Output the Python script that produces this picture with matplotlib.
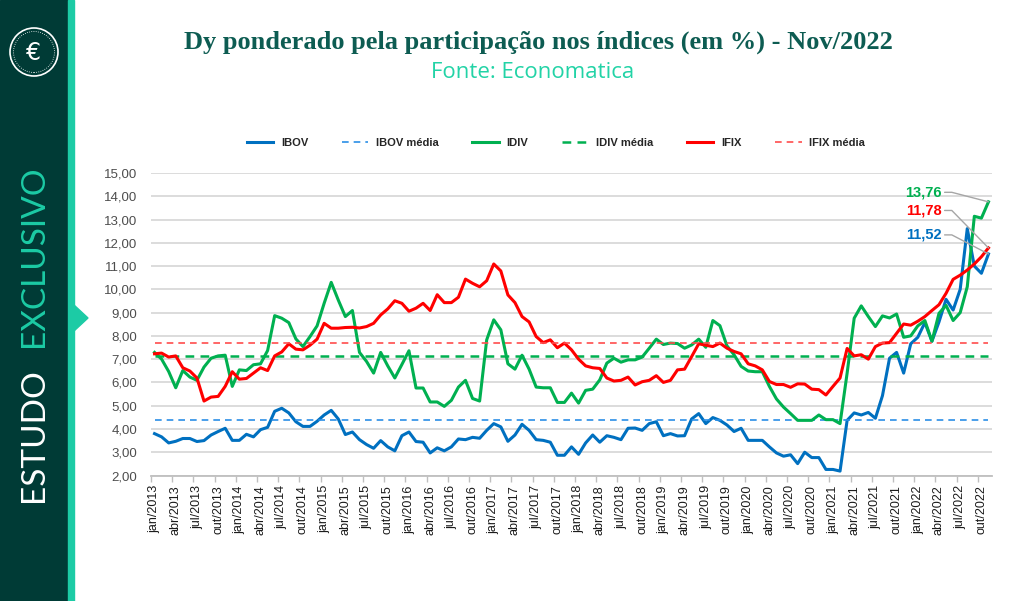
import numpy as np
import matplotlib
matplotlib.use("Agg")
import matplotlib.pyplot as plt
from matplotlib.patches import Rectangle, Polygon, Ellipse

# Dividend yield ponderado, mensal jan/2013 - nov/2022
ibov = [3.80, 3.66, 3.40, 3.47, 3.59, 3.59, 3.46, 3.50, 3.74, 3.89,
        4.03, 3.51, 3.51, 3.77, 3.66, 3.97, 4.07, 4.76, 4.89, 4.69,
        4.31, 4.11, 4.11, 4.33, 4.60, 4.80, 4.43, 3.76, 3.87, 3.54,
        3.33, 3.17, 3.50, 3.23, 3.06, 3.71, 3.87, 3.46, 3.43, 2.97,
        3.19, 3.06, 3.23, 3.57, 3.54, 3.64, 3.60, 3.94, 4.23, 4.09,
        3.47, 3.74, 4.20, 3.94, 3.54, 3.51, 3.43, 2.87, 2.87,
        3.23, 2.91, 3.40, 3.74, 3.43, 3.71, 3.64, 3.54, 4.03, 4.04,
        3.94, 4.23, 4.31, 3.71, 3.80, 3.70, 3.71, 4.43, 4.66, 4.23,
        4.49, 4.37, 4.17, 3.89, 4.03, 3.51, 3.51, 3.51, 3.23, 2.97,
        2.83, 2.89, 2.51, 3.00, 2.77, 2.77, 2.26, 2.26, 2.19, 4.37,
        4.69, 4.60, 4.71, 4.46, 5.43, 7.04, 7.29, 6.40, 7.66, 7.94,
        8.57, 7.77, 8.60, 9.57, 9.11, 10.00, 12.61, 11.00, 10.69, 11.52]

idiv = [7.29, 7.00, 6.47, 5.77, 6.51, 6.23, 6.09, 6.66, 7.04, 7.14,
        7.17, 5.83, 6.54, 6.51, 6.76, 6.80, 7.37, 8.87, 8.76, 8.57,
        7.87, 7.54, 7.97, 8.43, 9.40, 10.30, 9.54, 8.83, 9.09, 7.29,
        6.90, 6.40, 7.29, 6.71, 6.19, 6.77, 7.36, 5.76, 5.76, 5.16,
        5.16, 4.97, 5.23, 5.80, 6.09, 5.31, 5.20, 7.83, 8.69, 8.26,
        6.80, 6.57, 7.17, 6.57, 5.80, 5.77, 5.77, 5.14, 5.14,
        5.54, 5.11, 5.66, 5.71, 6.11, 6.83, 7.04, 6.87, 6.97, 6.97,
        7.09, 7.47, 7.86, 7.63, 7.69, 7.67, 7.47, 7.61, 7.86, 7.51,
        8.66, 8.44, 7.57, 7.19, 6.69, 6.49, 6.46, 6.46, 5.83, 5.29,
        4.94, 4.66, 4.37, 4.37, 4.37, 4.60, 4.40, 4.40, 4.23, 6.40,
        8.76, 9.29, 8.83, 8.40, 8.86, 8.77, 8.94, 7.94, 8.00, 8.43,
        8.66, 7.77, 8.97, 9.31, 8.66, 9.00, 10.11, 13.14, 13.06, 13.76]

ifix = [7.23, 7.26, 7.09, 7.14, 6.63, 6.49, 6.19, 5.20, 5.37, 5.40,
        5.83, 6.46, 6.14, 6.17, 6.40, 6.63, 6.51, 7.14, 7.31, 7.66,
        7.43, 7.40, 7.60, 7.86, 8.54, 8.33, 8.33, 8.36, 8.37, 8.34,
        8.40, 8.54, 8.90, 9.16, 9.51, 9.40, 9.06, 9.19, 9.40, 9.09,
        9.77, 9.43, 9.43, 9.66, 10.44, 10.26, 10.11, 10.37, 11.09, 10.79,
        9.76, 9.43, 8.83, 8.60, 7.97, 7.71, 7.83, 7.49, 7.69,
        7.40, 7.00, 6.71, 6.63, 6.60, 6.19, 6.06, 6.09, 6.23, 5.89,
        6.03, 6.09, 6.29, 6.00, 6.09, 6.54, 6.57, 7.11, 7.66, 7.60,
        7.54, 7.69, 7.47, 7.33, 7.23, 6.80, 6.71, 6.54, 6.04, 5.91,
        5.91, 5.79, 5.94, 5.93, 5.71, 5.69, 5.46, 5.83, 6.19, 7.46,
        7.14, 7.19, 7.00, 7.54, 7.69, 7.71, 8.11, 8.51, 8.46, 8.63,
        8.83, 9.09, 9.34, 9.83, 10.43, 10.61, 10.83, 11.09, 11.40, 11.78]

ibov_media = 4.39
idiv_media = 7.14
ifix_media = 7.71

meses = ["jan", "fev", "mar", "abr", "mai", "jun",
         "jul", "ago", "set", "out", "nov", "dez"]
datas = [meses[k % 12] + "/" + str(2013 + k // 12) for k in range(len(ibov))]

AZUL = "#0070c0"
VERDE = "#00b050"
VERMELHO = "#ff0000"
ESCURO = "#003b36"
TEAL = "#1ccba5"
NARROW = ["Liberation Sans Narrow", "Liberation Sans", "DejaVu Sans"]

W, H = 1024, 601
fig = plt.figure(figsize=(W / 100, H / 100), dpi=100)


def fx(x):
    return x / W


def fy(y):
    return 1 - y / H


# barra lateral
fig.patches.append(Rectangle((0, 0), fx(68), 1, color=ESCURO,
                             transform=fig.transFigure, zorder=0))
fig.patches.append(Rectangle((fx(68), 0), fx(6), 1, color=TEAL,
                             transform=fig.transFigure, zorder=0))
fig.patches.append(Polygon([(fx(74), fy(305)), (fx(88), fy(318)), (fx(74), fy(331))],
                           closed=True, color=TEAL, transform=fig.transFigure))

# logo
fig.patches.append(Ellipse((fx(34), fy(52)), fx(48), 48 / H, fill=False,
                           ec="white", lw=1.2, transform=fig.transFigure))
fig.patches.append(Ellipse((fx(34), fy(52)), fx(41), 41 / H, fill=False,
                           ec="white", lw=0.6, ls=":", transform=fig.transFigure))
fig.text(fx(34), fy(53), "€", color="white", fontsize=17, ha="center", va="center",
         family="DejaVu Sans")

fig.text(fx(34), fy(502), "ESTUDO", rotation=90, ha="center", va="bottom",
         color="white", fontsize=24, family=["Lato", "DejaVu Sans"])
fig.text(fx(34), fy(347), "EXCLUSIVO", rotation=90, ha="center", va="bottom",
         color=TEAL, fontsize=24, family=["Lato", "DejaVu Sans"])

# titulos
fig.text(fx(538), fy(42), "Dy ponderado pela participação nos índices (em %) - Nov/2022",
         ha="center", va="center", color="#0d5c52", fontsize=19, fontweight="bold",
         family=["Liberation Serif", "DejaVu Serif"])
fig.text(fx(533), fy(73), "Fonte: Economatica", ha="center", va="center",
         color="#22d3a6", fontsize=16, family=["Open Sans", "DejaVu Sans"])

# grafico
ax = fig.add_axes([fx(151), fy(475.5), fx(841), (475.5 - 173) / H])
x = np.arange(len(ibov))

ax.plot(x, ibov, color=AZUL, lw=2.2, label="IBOV")
ax.plot(x, np.full(len(x), ibov_media), color="#2b8fe6", lw=1.2,
        dashes=(4, 3), label="IBOV média")
ax.plot(x, idiv, color=VERDE, lw=2.2, label="IDIV")
ax.plot(x, np.full(len(x), idiv_media), color=VERDE, lw=1.8,
        dashes=(3.5, 2.5), label="IDIV média")
ax.plot(x, ifix, color=VERMELHO, lw=2.2, label="IFIX")
ax.plot(x, np.full(len(x), ifix_media), color="#ff4d4d", lw=1.2,
        dashes=(4, 3), label="IFIX média")

ax.set_xlim(-0.5, len(x) - 0.5)
ax.set_ylim(2, 15)
ax.set_yticks(np.arange(2, 16, 1))
ax.set_yticklabels([f"{v:.2f}".replace(".", ",") for v in np.arange(2, 16, 1)])
ax.yaxis.grid(True, color="#d9d9d9", lw=1.3)
ax.set_axisbelow(True)
for s in ["left", "top", "right"]:
    ax.spines[s].set_visible(False)
ax.spines["bottom"].set_color("#bfbfbf")
ax.spines["bottom"].set_linewidth(1.3)

ax.set_xticks(x[::3])
ax.set_xticklabels(datas[::3], rotation=90)
ax.set_xticks(np.arange(-0.5, len(x), 3), minor=True)
ax.tick_params(axis="x", which="major", length=0, pad=7, labelsize=9,
               labelcolor="#1a1a1a")
ax.tick_params(axis="x", which="minor", length=4, color="#bfbfbf", width=1)
ax.tick_params(axis="y", length=0, pad=10, labelsize=9.5, labelcolor="#4d4d4d")
for lab in ax.get_xticklabels() + ax.get_yticklabels():
    lab.set_family(NARROW)

# rotulos finais
finais = [(idiv[-1], 14.17, VERDE), (ifix[-1], 13.39, VERMELHO), (ibov[-1], 12.34, AZUL)]
for val, ytxt, cor in finais:
    ax.annotate(f"{val:.2f}".replace(".", ","), xy=(x[-1], val), xytext=(111.4, ytxt),
                ha="right", va="center", color=cor, fontsize=10.5, fontweight="bold",
                family=NARROW,
                arrowprops=dict(arrowstyle="-", color="#a6a6a6", lw=1, relpos=(1, 0.5),
                                shrinkA=0, shrinkB=0,
                                connectionstyle="arc,angleA=0,angleB=180,armA=10,armB=0,rad=0"))

handles, labels = ax.get_legend_handles_labels()
leg = fig.legend(handles, labels, loc="center", bbox_to_anchor=(fx(556), fy(143)),
                 ncol=6, frameon=False, fontsize=8, handlelength=2.4,
                 columnspacing=3.0, handletextpad=0.7)
for t in leg.get_texts():
    t.set_family(NARROW)
    t.set_fontweight("bold")
    t.set_color("#262626")

fig.savefig("out.png", dpi=100)
